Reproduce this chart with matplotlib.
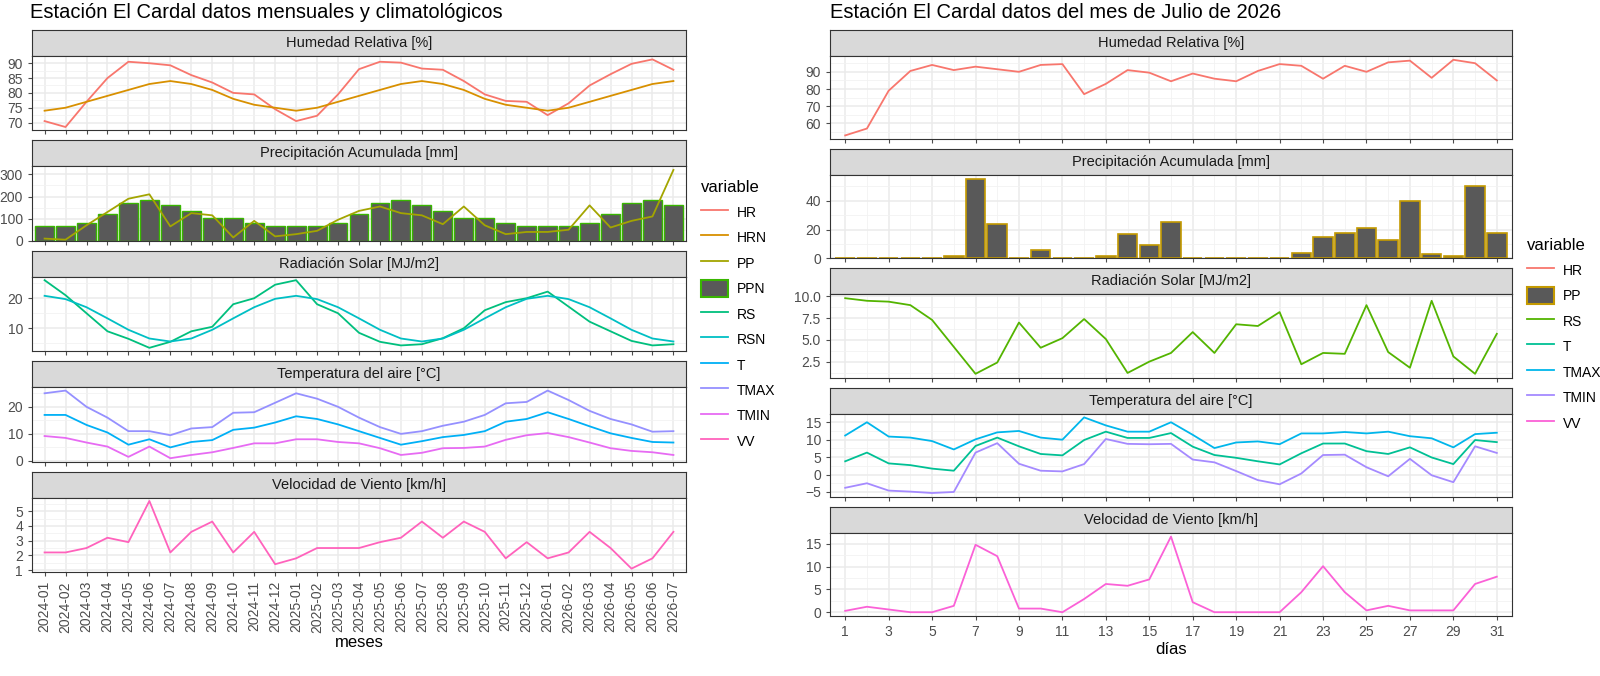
import numpy as np
import matplotlib.pyplot as plt
from matplotlib.lines import Line2D
from matplotlib.patches import Patch
from matplotlib.ticker import AutoMinorLocator

plt.rcParams["font.family"] = ["Liberation Sans", "DejaVu Sans"]

meses = [f"{y}-{m:02d}" for y in (2024, 2025, 2026) for m in range(1, 13)][:31]

hr_m = [70.5, 68.5, 77, 85, 90.5, 90, 89.3, 86, 83.5, 80, 79.5, 74.5, 70.5, 72.3, 79.5, 88,
        90.5, 90.2, 88.2, 87.8, 84, 79.5, 77.3, 77, 72.5, 76.5, 82.5, 86.3, 89.8, 91.3, 87.8]
hrn_m = [74, 75, 77, 79, 81, 83, 84, 83, 81, 78, 76, 75, 74, 75, 77, 79, 81, 83, 84, 83, 81,
         78, 76, 75, 74, 75, 77, 79, 81, 83, 84]
ppn_m = [65, 65, 80, 120, 170, 185, 160, 135, 105, 105, 80, 65, 65, 65, 80, 120, 170, 185, 160,
         135, 105, 105, 80, 65, 65, 65, 80, 120, 170, 185, 160]
pp_m = [10, 5, 70, 130, 190, 210, 65, 125, 115, 15, 90, 20, 30, 45, 95, 135, 155, 125, 115, 75,
        155, 70, 30, 40, 40, 50, 160, 60, 90, 110, 320]
rs_m = [26, 21, 15, 9, 6.5, 3.5, 5.5, 9, 10.5, 18, 20, 24.5, 26, 18, 15, 8.5, 5.5, 4.3, 4.7,
        6.7, 10, 16, 18.7, 20, 22.2, 17.2, 12.2, 9, 5.8, 4.3, 4.7]
rsn_m = [20.8, 19.7, 17, 13.3, 9.5, 6.6, 5.6, 6.6, 9.5, 13.3, 17, 19.8, 20.8, 19.7, 17, 13.3,
         9.5, 6.6, 5.6, 6.6, 9.5, 13.3, 17, 19.8, 20.8, 19.7, 17, 13.3, 9.5, 6.6, 5.6]
tmax_m = [25, 26, 20, 16, 11, 11, 9.5, 12, 12.5, 17.8, 18, 21.5, 25, 23, 20, 16, 12.5, 10, 11,
          13, 14.5, 17, 21.3, 21.8, 26, 22.5, 18.5, 15.5, 13.5, 10.8, 11]
t_m = [17, 17, 13.3, 10.5, 6, 8, 5, 7, 7.7, 11.5, 12.3, 14.2, 16.5, 15.5, 13.5, 11, 8.5, 6, 7.3,
       8.8, 9.6, 11, 14.5, 15.5, 18, 15.5, 12.8, 10.2, 8.5, 7, 6.8]
tmin_m = [9.2, 8.5, 6.8, 5.3, 1.5, 5.3, 1, 2.2, 3.2, 4.8, 6.5, 6.5, 8, 8, 7, 6.5, 4.7, 2.2, 3,
          4.7, 4.8, 5.3, 7.8, 9.5, 10.3, 8.8, 6.8, 4.7, 3.7, 3.2, 2.2]
vv_m = [2.2, 2.2, 2.5, 3.2, 2.9, 5.7, 2.2, 3.6, 4.3, 2.2, 3.6, 1.4, 1.8, 2.5, 2.5, 2.5, 2.9, 3.2,
        4.3, 3.2, 4.3, 3.6, 1.8, 2.9, 1.8, 2.2, 3.6, 2.5, 1.1, 1.8, 3.6]

dias = list(range(1, 32))
hr_d = [53, 57, 79, 90.5, 94, 91, 93, 91.5, 90, 94, 94.5, 77, 83, 91, 89.5, 84.5, 89, 86, 84.5,
        90.5, 94.5, 93.5, 86, 93.5, 90, 95.5, 96.5, 86.5, 97, 95, 85]
pp_d = [0, 0, 0, 0, 0, 2, 55, 24, 0, 6, 0, 0, 2, 17, 9, 25, 0, 0, 0, 0, 0, 3.5, 15, 17.5, 21,
        12.5, 40, 3, 1.5, 50, 17.5]
rs_d = [9.8, 9.5, 9.4, 9.0, 7.3, 4.2, 1.1, 2.4, 7.0, 4.1, 5.2, 7.4, 5.1, 1.2, 2.5, 3.5, 5.9,
        3.5, 6.8, 6.6, 8.2, 2.2, 3.5, 3.4, 9.0, 3.6, 1.8, 9.5, 3.1, 1.1, 5.7]
tmax_d = [11.2, 15, 10.9, 10.6, 9.6, 7.2, 10.1, 12.1, 12.5, 10.6, 10, 16.4, 14.1, 12.3, 12.3,
          15, 11.4, 7.6, 9.2, 9.5, 8.7, 11.8, 11.8, 12.2, 11.8, 12.3, 11, 10.4, 7.8, 11.6, 12]
t_d = [3.8, 6.3, 3.2, 2.7, 1.7, 1.1, 8.2, 10.6, 8.1, 5.9, 5.5, 9.9, 12.3, 10.5, 10.5, 11.9, 8,
       5.6, 4.8, 3.8, 2.9, 6.1, 8.9, 8.9, 6.7, 5.9, 7.8, 4.9, 3, 9.9, 9.3]
tmin_d = [-3.8, -2.5, -4.6, -4.9, -5.3, -5, 6.3, 9, 3.1, 1.1, 0.9, 3, 10.2, 8.8, 8.7, 8.8, 4.3,
          3.5, 1, -1.6, -2.8, 0.3, 5.6, 5.7, 2.1, -0.5, 4.5, -0.2, -2.2, 8.1, 6.2]
vv_d = [0.3, 1.2, 0.6, 0, 0, 1.4, 14.8, 12.3, 0.8, 0.8, 0, 2.9, 6.2, 5.8, 7.2, 16.6, 2.2, 0, 0,
        0, 0, 4.4, 10.1, 4.4, 0.4, 1.4, 0.4, 0.4, 0.4, 6.2, 7.8]

W, H = 1600, 676
fig = plt.figure(figsize=(16, 6.76), dpi=100)


def make_facet(left, right, top, bottom, title, xlim):
    '''
    routine use
        build one ggplot-like facet (strip + panel) in pixel coordinates

    returns
        panel axes
    '''
    strip_h = 26
    sax = fig.add_axes([left / W, 1 - (top + strip_h) / H, (right - left) / W, strip_h / H])
    sax.set_facecolor("#D9D9D9")
    sax.set_xticks([])
    sax.set_yticks([])
    for s in sax.spines.values():
        s.set_color("#333333")
    sax.text(0.5, 0.5, title, ha="center", va="center", fontsize=10.5, color="#1A1A1A",
             transform=sax.transAxes)
    ax = fig.add_axes([left / W, 1 - bottom / H, (right - left) / W,
                       (bottom - top - strip_h) / H])
    ax.set_xlim(*xlim)
    ax.set_axisbelow(True)
    ax.grid(which="major", color="#EBEBEB", linewidth=1.1)
    ax.grid(which="minor", color="#F2F2F2", linewidth=0.6)
    ax.yaxis.set_minor_locator(AutoMinorLocator(2))
    ax.tick_params(axis="both", labelsize=10, colors="#4D4D4D", length=3, width=0.8)
    ax.tick_params(which="minor", length=0)
    for s in ax.spines.values():
        s.set_color("#333333")
        s.set_linewidth(0.8)
    return ax


# left side: monthly
xm = np.arange(len(meses))
lw = 1.3
lxlim = (-0.6, 30.6)
step = 110.4
ax_list = []
for i, title in enumerate(["Humedad Relativa [%]", "Precipitación Acumulada [mm]",
                           "Radiación Solar [MJ/m2]", "Temperatura del aire [°C]",
                           "Velocidad de Viento [km/h]"]):
    top = 30 + i * step
    ax = make_facet(32, 686, top, top + step - 10, title, lxlim)
    ax.set_xticks(xm)
    ax.set_xticklabels([])
    ax_list.append(ax)

ax_list[0].plot(xm, hr_m, color="#F8766D", lw=lw)
ax_list[0].plot(xm, hrn_m, color="#D89000", lw=lw)
ax_list[0].set_yticks([70, 75, 80, 85, 90])
ax_list[1].bar(xm, ppn_m, width=0.9, color="#595959", edgecolor="#39B600", linewidth=1)
ax_list[1].plot(xm, pp_m, color="#A3A500", lw=lw)
ax_list[1].set_yticks([0, 100, 200, 300])
ax_list[2].plot(xm, rs_m, color="#00BF7D", lw=lw)
ax_list[2].plot(xm, rsn_m, color="#00BFC4", lw=lw)
ax_list[2].set_yticks([10, 20])
ax_list[3].plot(xm, tmax_m, color="#9590FF", lw=lw)
ax_list[3].plot(xm, t_m, color="#00B0F6", lw=lw)
ax_list[3].plot(xm, tmin_m, color="#E76BF3", lw=lw)
ax_list[3].set_yticks([0, 10, 20])
ax_list[4].plot(xm, vv_m, color="#FF62BC", lw=lw)
ax_list[4].set_yticks([1, 2, 3, 4, 5])
ax_list[4].yaxis.set_minor_locator(AutoMinorLocator(2))
ax_list[4].set_xticklabels(meses, rotation=90, fontsize=10)
ax_list[4].set_xlabel("meses", fontsize=12, labelpad=2)

fig.text(30 / W, 1 - 12 / H, "Estación El Cardal datos mensuales y climatológicos",
         fontsize=14.5, va="center")

# right side: daily
rxlim = (0.3, 31.7)
step = 119.2
ax_list = []
for i, title in enumerate(["Humedad Relativa [%]", "Precipitación Acumulada [mm]",
                           "Radiación Solar [MJ/m2]", "Temperatura del aire [°C]",
                           "Velocidad de Viento [km/h]"]):
    top = 30 + i * step
    ax = make_facet(830, 1512, top, top + step - 10, title, rxlim)
    ax.set_xticks(dias[::2])
    ax.xaxis.set_minor_locator(AutoMinorLocator(2))
    ax.set_xticklabels([])
    ax_list.append(ax)

ax_list[0].plot(dias, hr_d, color="#F8766D", lw=lw)
ax_list[0].set_yticks([60, 70, 80, 90])
ax_list[1].bar(dias, pp_d, width=0.9, color="#595959", edgecolor="#C49A00", linewidth=1.2)
ax_list[1].set_yticks([0, 20, 40])
ax_list[2].plot(dias, rs_d, color="#53B400", lw=lw)
ax_list[2].set_yticks([2.5, 5.0, 7.5, 10.0])
ax_list[3].plot(dias, tmax_d, color="#00B6EB", lw=lw)
ax_list[3].plot(dias, t_d, color="#00C094", lw=lw)
ax_list[3].plot(dias, tmin_d, color="#A58AFF", lw=lw)
ax_list[3].set_yticks([-5, 0, 5, 10, 15])
ax_list[4].plot(dias, vv_d, color="#FB61D7", lw=lw)
ax_list[4].set_yticks([0, 5, 10, 15])
ax_list[4].set_xticklabels(dias[::2], fontsize=10)
ax_list[4].set_xlabel("días", fontsize=12, labelpad=2)

fig.text(830 / W, 1 - 12 / H, "Estación El Cardal datos del mes de Julio de 2026",
         fontsize=14.5, va="center")


def legend_handles(names, colors, bar_name, bar_edge):
    '''
    routine use
        build legend handles, lines plus one filled key for the bar variable
    '''
    handles = []
    for n, c in zip(names, colors):
        if n == bar_name:
            handles.append(Patch(facecolor="#595959", edgecolor=bar_edge, linewidth=1.5, label=n))
        else:
            handles.append(Line2D([], [], color=c, lw=1.3, label=n))
    return handles


left_names = ["HR", "HRN", "PP", "PPN", "RS", "RSN", "T", "TMAX", "TMIN", "VV"]
left_colors = ["#F8766D", "#D89000", "#A3A500", "#39B600", "#00BF7D", "#00BFC4", "#00B0F6",
               "#9590FF", "#E76BF3", "#FF62BC"]
fig.legend(handles=legend_handles(left_names, left_colors, "PPN", "#39B600"),
           title="variable", loc="upper left", bbox_to_anchor=(688 / W, 1 - 168 / H),
           frameon=False, fontsize=10, title_fontsize=12, alignment="left",
           handlelength=2.0, handleheight=1.6, labelspacing=0.55, handletextpad=0.6)

right_names = ["HR", "PP", "RS", "T", "TMAX", "TMIN", "VV"]
right_colors = ["#F8766D", "#C49A00", "#53B400", "#00C094", "#00B6EB", "#A58AFF", "#FB61D7"]
fig.legend(handles=legend_handles(right_names, right_colors, "PP", "#C49A00"),
           title="variable", loc="upper left", bbox_to_anchor=(1514 / W, 1 - 226 / H),
           frameon=False, fontsize=10, title_fontsize=12, alignment="left",
           handlelength=2.0, handleheight=1.6, labelspacing=0.55, handletextpad=0.6)

plt.savefig("out.png", dpi=100)
